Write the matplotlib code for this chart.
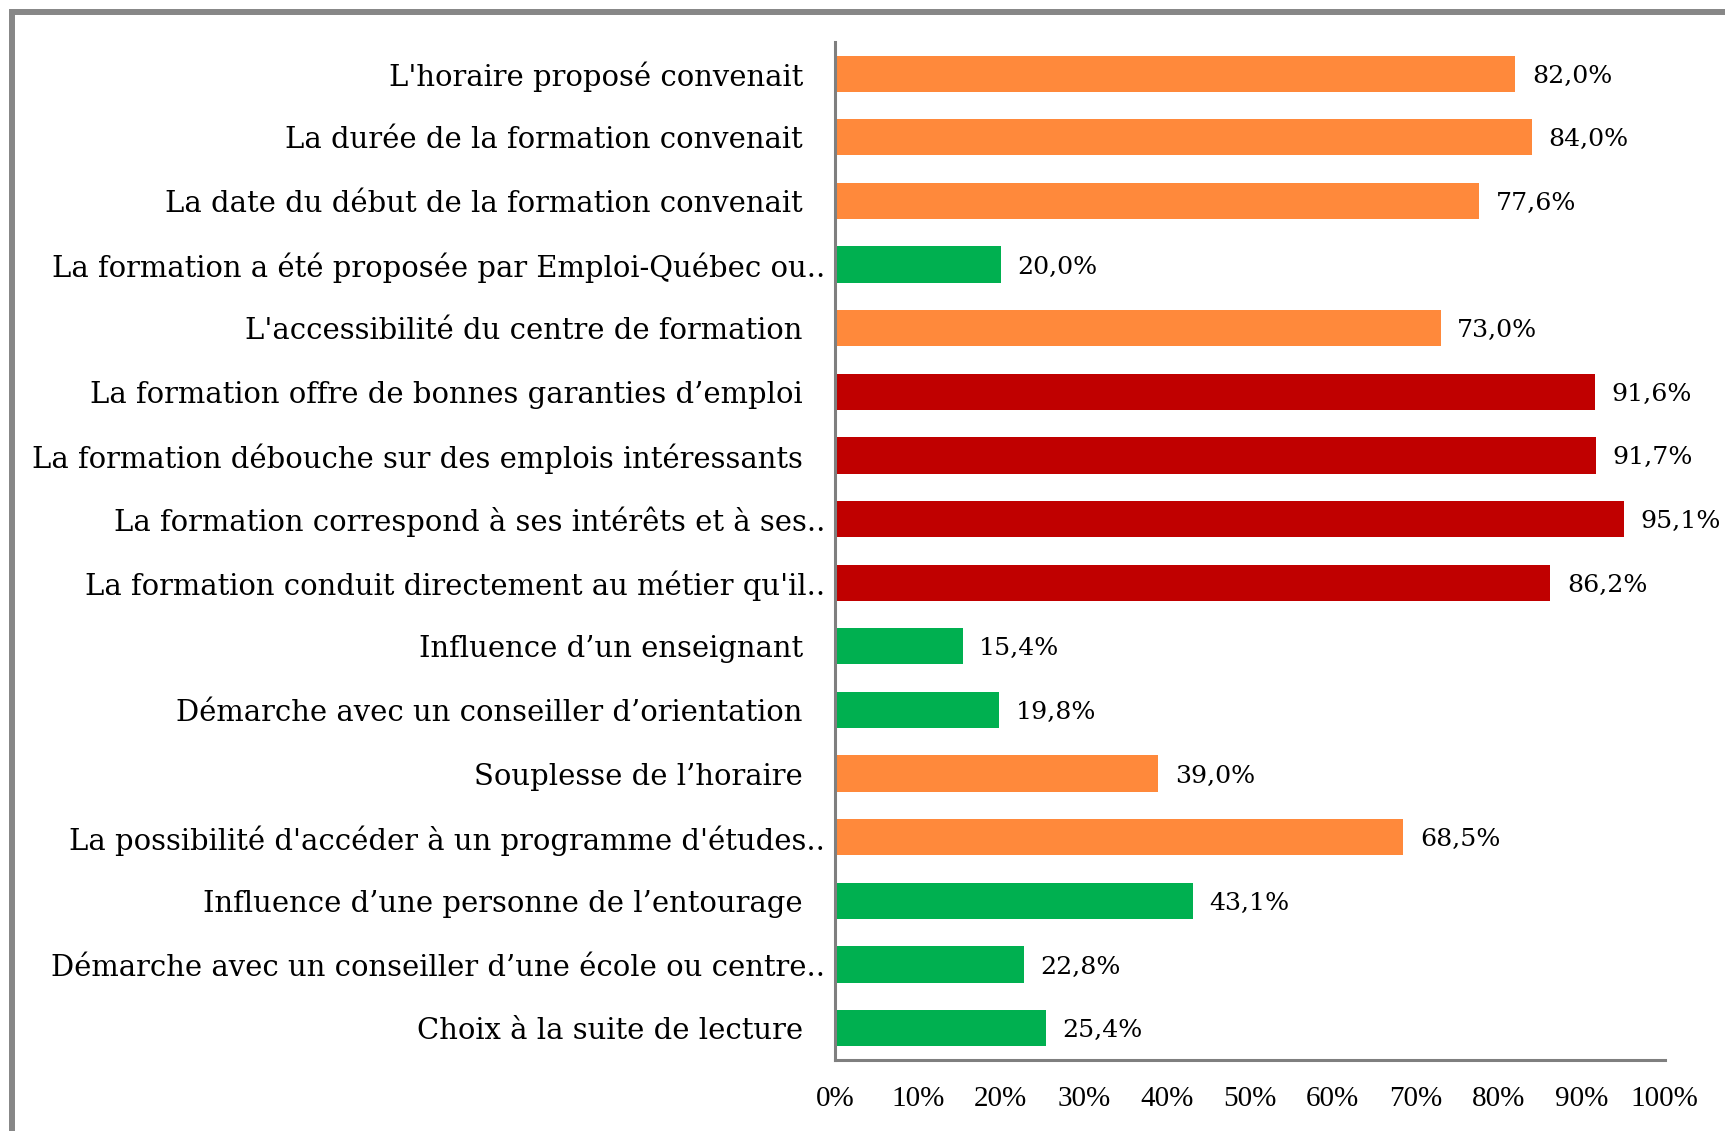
import matplotlib
matplotlib.use("Agg")
import matplotlib.pyplot as plt
from matplotlib.patches import Rectangle

# data, top to bottom as in the chart
labels = [
    "L'horaire proposé convenait",
    "La durée de la formation convenait",
    "La date du début de la formation convenait",
    "La formation a été proposée par Emploi-Québec ou..",
    "L'accessibilité du centre de formation",
    "La formation offre de bonnes garanties d’emploi",
    "La formation débouche sur des emplois intéressants",
    "La formation correspond à ses intérêts et à ses..",
    "La formation conduit directement au métier qu'il..",
    "Influence d’un enseignant",
    "Démarche avec un conseiller d’orientation",
    "Souplesse de l’horaire",
    "La possibilité d'accéder à un programme d'études..",
    "Influence d’une personne de l’entourage",
    "Démarche avec un conseiller d’une école ou centre..",
    "Choix à la suite de lecture",
]
values = [82.0, 84.0, 77.6, 20.0, 73.0, 91.6, 91.7, 95.1, 86.2,
          15.4, 19.8, 39.0, 68.5, 43.1, 22.8, 25.4]
groups = ["o", "o", "o", "g", "o", "r", "r", "r", "r",
          "g", "g", "o", "o", "g", "g", "g"]
xticks = [0, 10, 20, 30, 40, 50, 60, 70, 80, 90, 100]

palette = {"o": "#FF893B", "r": "#C00000", "g": "#00B050"}
serif = "DejaVu Serif"

fig = plt.figure(figsize=(17.25, 11.31), dpi=100)
ax = fig.add_axes([0.484, 0.0628, 0.481, 0.9002])

pos = list(range(len(values)))
ax.barh(pos, values, height=0.57, color=[palette[g] for g in groups])
ax.set_ylim(len(values) - 0.5, -0.5)
ax.set_xlim(0, 100)

for y, v in zip(pos, values):
    ax.annotate(f"{v:.1f}%".replace(".", ","), (v, y), xytext=(12, 0),
                textcoords="offset points", va="center_baseline", ha="left",
                fontsize=18.2, family=serif, color="black")

# category labels (truncated ones sit closer to the axis)
trans = ax.get_yaxis_transform()
for y, lab in zip(pos, labels):
    x = -0.012 if lab.endswith("..") else -0.0386
    ax.text(x, y, lab, transform=trans, ha="right", va="center_baseline",
            fontsize=20.9, family=serif, color="black")
ax.set_yticks([])

ax.set_xticks(xticks)
ax.set_xticklabels([f"{t}%" for t in xticks], family="Liberation Serif", fontsize=21)
ax.tick_params(axis="x", length=0, pad=19)

for s in ["top", "right"]:
    ax.spines[s].set_visible(False)
for s in ["left", "bottom"]:
    ax.spines[s].set_color("#7f7f7f")
    ax.spines[s].set_linewidth(2.2)

# outer frame, only left and top edges fall inside the picture
frame = Rectangle((0.0067, -0.1), 1.2, 1.1 - 0.0102, transform=fig.transFigure,
                  fill=False, edgecolor="#878787", linewidth=4.3, clip_on=False)
fig.patches.append(frame)

fig.savefig("out.png", dpi=100)
